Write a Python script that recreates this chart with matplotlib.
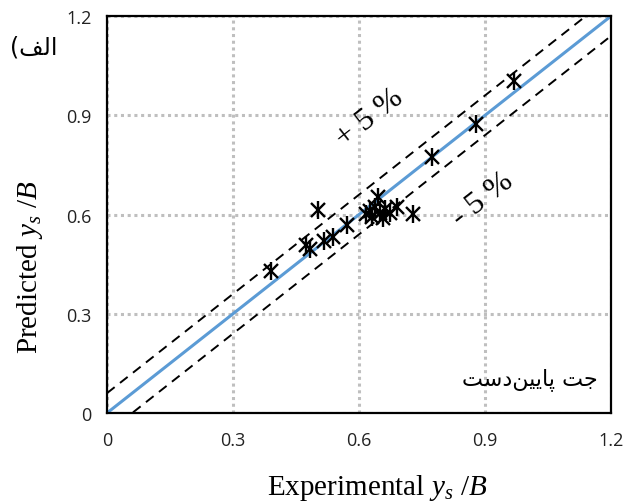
import matplotlib
matplotlib.use("Agg")
import matplotlib.pyplot as plt
import numpy as np

plt.rcParams["mathtext.fontset"] = "custom"
plt.rcParams["mathtext.it"] = "Liberation Serif:italic"
plt.rcParams["mathtext.rm"] = "Liberation Serif"

# measured vs predicted y_s/B
experimental = [0.390, 0.473, 0.483, 0.502, 0.517, 0.538, 0.571, 0.617, 0.626,
                0.631, 0.638, 0.645, 0.650, 0.657, 0.662, 0.674, 0.690, 0.729,
                0.774, 0.879, 0.969]
predicted = [0.429, 0.507, 0.495, 0.613, 0.520, 0.532, 0.568, 0.601, 0.610,
             0.592, 0.622, 0.653, 0.604, 0.589, 0.616, 0.604, 0.622, 0.601,
             0.773, 0.873, 1.003]
ticks = [0, 0.3, 0.6, 0.9, 1.2]
tick_labels = ["0", "0.3", "0.6", "0.9", "1.2"]
band = 0.06

# Persian labels, shaped + visual order (presentation forms)
label_a = "(\uFED2\uFEDF\uFE8D"
label_jet = "\uFE96\uFEB3\uFEA9\uFEE6\uFEF4\uFEF3\uFE8E\uFB58 \uFE96\uFE9F"

fig = plt.figure(figsize=(6.28, 5.02), dpi=100)
ax = fig.add_axes([0.1704, 0.1753, 0.8026, 0.7907])

line = np.array([0, 1.2])
ax.plot(line, line, color="#5B9BD5", lw=2.2, zorder=2)
ax.plot(line, line + band, color="black", lw=1.4, ls=(0, (5, 3.5)), zorder=2)
ax.plot(line, line - band, color="black", lw=1.4, ls=(0, (5, 3.5)), zorder=2)

ax.plot(experimental, predicted, ls="none", marker="x", ms=10, mew=1.7,
        color="black", zorder=3)
ax.plot(experimental, predicted, ls="none", marker="|", ms=13, mew=1.7,
        color="black", zorder=3)

ax.set_xlim(0, 1.2)
ax.set_ylim(0, 1.2)
ax.set_xticks(ticks)
ax.set_yticks(ticks)
ax.set_xticklabels(tick_labels)
ax.set_yticklabels(tick_labels)
ax.tick_params(length=0, labelsize=13)
ax.tick_params(axis="x", pad=13)
ax.tick_params(axis="y", pad=11)
for lab in ax.get_xticklabels() + ax.get_yticklabels():
    lab.set_fontfamily("Open Sans")
    lab.set_color("#222222")

ax.grid(True, color="#BFBFBF", ls=(0, (1, 1.2)), lw=2.2)
for s in ax.spines.values():
    s.set_linewidth(1.6)
    s.set_color("black")

serif = "Liberation Serif"
ax.set_xlabel(r"Experimental $y_s$ /$B$", fontsize=21, family=serif)
ax.set_ylabel(r"Predicted $y_s$ /$B$", fontsize=21, family=serif)
ax.xaxis.set_label_coords(0.535, -0.148)
ax.yaxis.set_label_coords(-0.124, 0.37)

ax.text(0.626, 0.894, "+ 5 %", fontsize=23, family=serif, rotation=38,
        ha="center", va="center")
ax.text(0.895, 0.647, "- 5 %", fontsize=23, family=serif, rotation=38,
        ha="center", va="center")
ax.text(1.169, 0.103, label_jet, fontsize=16, family=["DejaVu Sans"],
        ha="right", va="center")
fig.text(0.053, 0.905, label_a, fontsize=17, family=["DejaVu Sans"],
         ha="center", va="center")

fig.savefig("out.png", dpi=100)
